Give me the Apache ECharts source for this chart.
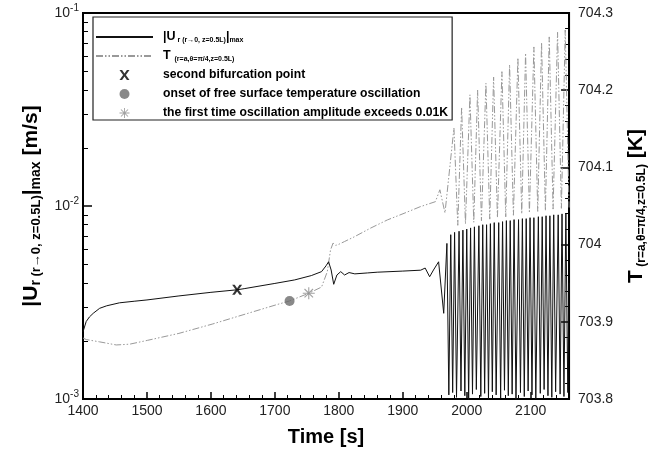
<!DOCTYPE html>
<html>
<head>
<meta charset="utf-8">
<script src="https://cdn.jsdelivr.net/npm/echarts@6/dist/echarts.min.js"></script>
<style>html,body{margin:0;padding:0;background:#fff}#c{width:656px;height:454px}</style>
</head>
<body>
<div id="c"></div>
<script>
// ---- data ----
const xTicks = [1400, 1500, 1600, 1700, 1800, 1900, 2000, 2100];
const rightTicks = [703.8, 703.9, 704, 704.1, 704.2, 704.3];
// |U_r|max trend (before self-sustained oscillation): [time s, m/s]
const uTrend = [[1400,2.23e-3],[1405,2.52e-3],[1410,2.66e-3],[1416,2.78e-3],[1426,2.95e-3],[1437,3.04e-3],
 [1457,3.15e-3],[1480,3.21e-3],[1500,3.26e-3],[1550,3.42e-3],[1600,3.57e-3],[1641,3.68e-3],[1652,3.73e-3],
 [1700,3.97e-3],[1731,4.14e-3],[1757,4.36e-3],[1773,4.57e-3],[1780,4.90e-3],[1784,5.14e-3],[1788,4.66e-3],
 [1792,3.93e-3],[1797,4.39e-3],[1803,4.57e-3],[1809,4.39e-3],[1816,4.52e-3],[1825,4.45e-3],[1845,4.50e-3],
 [1860,4.54e-3],[1900,4.60e-3],[1928,4.65e-3],[1935,4.77e-3],[1942,4.30e-3],[1948,4.66e-3],[1956,5.14e-3],
 [1964,2.78e-3]];
// |U_r|max oscillation: alternating peaks / troughs
const uOsc = [[1969,6.4e-3],[1972,1.05e-3],[1975,7.1e-3],[1978,1.08e-3],[1981,7.3e-3],[1984,1.02e-3],
 [1988,7.4e-3],[1991,1.10e-3],[1994,7.5e-3],[1997,1.04e-3],[2000,7.6e-3],[2003,0.98e-3],[2006,7.7e-3],[2009,1.06e-3],
 [2012,7.8e-3],[2015,1.12e-3],[2019,7.9e-3],[2022,1.03e-3],[2025,8.0e-3],[2028,1.07e-3],[2031,8.0e-3],[2034,0.99e-3],
 [2037,8.1e-3],[2040,1.09e-3],[2043,8.2e-3],[2046,1.05e-3],[2050,8.2e-3],[2053,1.01e-3],[2056,8.3e-3],[2059,1.11e-3],
 [2062,8.4e-3],[2065,1.04e-3],[2068,8.4e-3],[2071,1.06e-3],[2074,8.5e-3],[2077,0.98e-3],[2081,8.5e-3],[2084,1.08e-3],
 [2087,8.6e-3],[2090,1.03e-3],[2093,8.6e-3],[2096,1.10e-3],[2099,8.7e-3],[2102,1.05e-3],[2105,8.7e-3],[2108,1.00e-3],
 [2112,8.8e-3],[2115,1.07e-3],[2118,8.8e-3],[2121,1.12e-3],[2124,8.9e-3],[2127,1.04e-3],[2130,8.9e-3],[2133,1.02e-3],
 [2136,9.0e-3],[2139,1.09e-3],[2143,9.0e-3],[2146,1.06e-3],[2149,9.1e-3],[2152,1.03e-3],[2155,9.1e-3],[2158,1.08e-3],
 [2160,4.0e-3]];
// T(r=a, theta=pi/4, z=0.5L) trend: [time s, K]
const tTrend = [[1400,703.879],[1405,703.877],[1426,703.874],[1452,703.870],[1473,703.871],[1501,703.876],
 [1550,703.885],[1602,703.897],[1654,703.910],[1702,703.922],[1723,703.927],[1753,703.937],[1773,703.945],
 [1782,703.965],[1787,703.993],[1791,704.002],[1795,703.999],[1799,704.000],[1809,704.004],[1824,704.010],
 [1850,704.0215],[1876,704.032],[1902,704.0405],[1927,704.049],[1951,704.0556],[1958,704.071],[1966,704.041]];
// T oscillation: alternating peaks / troughs
const tOsc = [[1980,704.151],[1986,704.025],[1992,704.178],[1998,704.027],[2005,704.194],[2011,704.029],
 [2017,704.200],[2023,704.031],[2030,704.209],[2036,704.033],[2042,704.217],[2048,704.035],[2055,704.224],
 [2061,704.036],[2067,704.233],[2073,704.038],[2080,704.242],[2086,704.040],[2092,704.248],[2098,704.041],
 [2105,704.256],[2111,704.043],[2117,704.262],[2123,704.044],[2129,704.269],[2135,704.046],[2142,704.275],
 [2148,704.047],[2154,704.278],[2160,704.048]];
// special points
const bifurcationPt = [[1641, 3.68e-3]];     // on |U| (left axis)
const onsetPt = [[1723, 703.927]];          // on T (right axis)
const ampPt = [[1753, 703.937]];            // on T (right axis)
const legendNames = ['U', 'T', 'X', 'dot', 'star'];
// minor log ticks (2..9 per decade), expressed as decimal exponents
const logMinorMantissa = [2, 3, 4, 5, 6, 7, 8, 9];
const logDecades = [-3, -2];

const logMinorExp = [];
logDecades.forEach(d => logMinorMantissa.forEach(m => logMinorExp.push(d + Math.log10(m))));

const FONT = '"Liberation Sans", Arial, sans-serif';
const xPath = 'path://M0 0 L2.6 0 L5 3.4 L7.4 0 L10 0 L6.4 5 L10 10 L7.4 10 L5 6.6 L2.6 10 L0 10 L3.6 5 Z';
const starPath = 'path://M0 9.1 L20 9.1 L20 10.9 L0 10.9 Z M9.1 0 L10.9 0 L10.9 20 L9.1 20 Z M2.29 3.57 L3.57 2.29 L17.71 16.43 L16.43 17.71 Z M16.43 2.29 L17.71 3.57 L3.57 17.71 L2.29 16.43 Z';

const chart = echarts.init(document.getElementById('c'), null, {renderer: 'canvas'});
const axisLabelStyle = {color: '#222', fontFamily: FONT, fontSize: 14};
chart.setOption({
  animation: false,
  backgroundColor: '#fff',
  textStyle: {fontFamily: FONT},
  grid: {left: 83, right: 83, top: 13, bottom: 55, show: true, borderColor: '#000', borderWidth: 2, backgroundColor: 'transparent'},
  legend: {
    data: [
      {name: 'U', itemStyle: {opacity: 0}},
      {name: 'T', itemStyle: {opacity: 0}},
      {name: 'X'}, {name: 'dot'}, {name: 'star'}
    ],
    orient: 'vertical', left: 93, top: 17,
    padding: [13, 4, 0, 2],
    borderColor: '#222', borderWidth: 1.2,
    itemWidth: 57, itemHeight: 10, itemGap: 5,
    textStyle: {
      fontFamily: FONT, fontSize: 12.2, fontWeight: 'bold', color: '#000', lineHeight: 14, padding: [0, 0, 0, 5],
      rich: {
        b: {fontFamily: FONT, fontSize: 12.5, fontWeight: 'bold', lineHeight: 14},
        s: {fontFamily: FONT, fontSize: 7, fontWeight: 'bold', lineHeight: 8, padding: [6, 0, 0, 0]}
      }
    },
    formatter: function (n) {
      if (n === 'U') return '{b|\u007CU}{s| r (r\u21920, z=0.5L)}{b|\u007C}{s|max}';
      if (n === 'T') return '{b|T}{s|  (r=a,\u03B8=\u03C0/4,z=0.5L)}';
      if (n === 'X') return 'second bifurcation point';
      if (n === 'dot') return 'onset of free surface temperature oscillation';
      return 'the first time oscillation amplitude exceeds 0.01K';
    }
  },
  xAxis: {
    type: 'value', min: 1400, max: 2160, interval: 100,
    name: 'Time [s]', nameLocation: 'middle', nameGap: 28,
    nameTextStyle: {fontFamily: FONT, fontSize: 20, fontWeight: 'bold', color: '#000'},
    axisLine: {show: true, onZero: false, lineStyle: {color: '#000', width: 2}},
    axisTick: {show: true, inside: true, length: 7, lineStyle: {color: '#000', width: 1.5}},
    minorTick: {show: true, splitNumber: 5, length: 4, lineStyle: {color: '#000', width: 1}},
    axisLabel: Object.assign({margin: 5, showMaxLabel: false, formatter: v => String(v)}, axisLabelStyle),
    splitLine: {show: false}
  },
  yAxis: [{
    type: 'log', logBase: 10, min: 1e-3, max: 1e-1, position: 'left',
    name: '{b|\u007CU}{m|r}{s| (r\u21920, z=0.5L)}{b|\u007C}{m|max}{b| [m/s]}',
    nameLocation: 'middle', nameRotate: 90, nameGap: 40,
    nameTextStyle: {
      color: '#000', fontFamily: FONT,
      rich: {
        b: {fontFamily: FONT, fontSize: 21, fontWeight: 'bold', lineHeight: 24, color: '#000'},
        m: {fontFamily: FONT, fontSize: 14, fontWeight: 'bold', lineHeight: 14, padding: [10, 0, 0, 0], color: '#000'},
        s: {fontFamily: FONT, fontSize: 13, fontWeight: 'bold', lineHeight: 13, padding: [11, 0, 0, 0], color: '#000'}
      }
    },
    axisLine: {show: true, lineStyle: {color: '#000', width: 2}},
    axisTick: {show: true, inside: true, length: 9, lineStyle: {color: '#000', width: 1.5}},
    axisLabel: {
      margin: 4, color: '#222', fontFamily: FONT,
      formatter: v => '10{sup|' + Math.round(Math.log10(v)) + '}',
      rich: {
        sup: {fontFamily: FONT, fontSize: 10, lineHeight: 10, padding: [0, 0, 9, 0], color: '#222'}
      },
      fontSize: 14
    },
    splitLine: {show: false}
  }, {
    // exponent-space twin of the log axis, only used to draw its 2..9 minor ticks
    type: 'value', min: -3, max: -1, position: 'left',
    axisLine: {show: false},
    axisTick: {show: true, inside: true, length: 5, customValues: logMinorExp, lineStyle: {color: '#000', width: 1}},
    axisLabel: {show: false},
    splitLine: {show: false}
  }, {
    type: 'value', min: 703.8, max: 704.3, interval: 0.1, position: 'right',
    name: '{b|T}{s| (r=a,\u03B8=\u03C0/4,z=0.5L)}{b| [K]}',
    nameLocation: 'middle', nameRotate: 90, nameGap: 54,
    nameTextStyle: {
      color: '#000', fontFamily: FONT,
      rich: {
        b: {fontFamily: FONT, fontSize: 21, fontWeight: 'bold', lineHeight: 24, color: '#000'},
        s: {fontFamily: FONT, fontSize: 12, fontWeight: 'bold', lineHeight: 12, padding: [12, 0, 0, 0], color: '#000'}
      }
    },
    axisLine: {show: true, lineStyle: {color: '#000', width: 2}},
    axisTick: {show: true, inside: true, length: 8, lineStyle: {color: '#000', width: 1.5}},
    minorTick: {show: true, splitNumber: 5, length: 4, lineStyle: {color: '#000', width: 1}},
    axisLabel: Object.assign({margin: 9, formatter: v => String(+v.toFixed(1))}, axisLabelStyle),
    splitLine: {show: false}
  }],
  series: [{
    name: 'U', type: 'line', yAxisIndex: 0, data: uTrend.concat(uOsc),
    symbol: 'none', showSymbol: false, smooth: false, clip: true,
    lineStyle: {color: '#111', width: 1}, itemStyle: {color: '#111'}, z: 3
  }, {
    name: 'T', type: 'line', yAxisIndex: 2, data: tTrend.concat(tOsc),
    symbol: 'none', showSymbol: false, smooth: false, clip: true,
    lineStyle: {color: '#999', width: 1, type: [7, 2, 1.5, 2, 1.5, 2]}, itemStyle: {color: '#999'}, z: 2
  }, {
    name: 'X', type: 'scatter', yAxisIndex: 0, data: bifurcationPt,
    symbol: xPath, symbolSize: 10, itemStyle: {color: '#000'}, z: 5
  }, {
    name: 'dot', type: 'scatter', yAxisIndex: 2, data: onsetPt,
    symbol: 'circle', symbolSize: 10, itemStyle: {color: '#6b6b6b'}, z: 5
  }, {
    name: 'star', type: 'scatter', yAxisIndex: 2, data: ampPt,
    symbol: starPath, symbolSize: 12, itemStyle: {color: '#8a8a8a'}, z: 5
  }]
});
</script>
</body>
</html>
